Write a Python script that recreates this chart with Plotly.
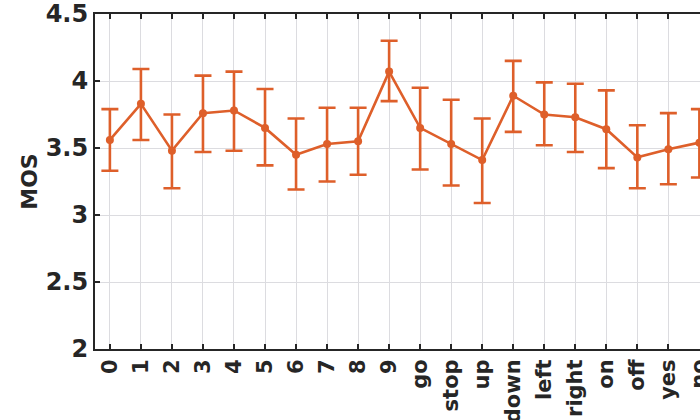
import plotly.graph_objects as go

categories = ['0', '1', '2', '3', '4', '5', '6', '7', '8', '9',
              'go', 'stop', 'up', 'down', 'left', 'right', 'on', 'off', 'yes', 'no']
mos = [3.56, 3.83, 3.48, 3.76, 3.78, 3.65, 3.45, 3.53, 3.55, 4.07,
       3.65, 3.53, 3.41, 3.89, 3.75, 3.73, 3.64, 3.43, 3.49, 3.54]
upper = [3.79, 4.09, 3.75, 4.04, 4.07, 3.94, 3.72, 3.80, 3.80, 4.30,
         3.95, 3.86, 3.72, 4.15, 3.99, 3.98, 3.93, 3.67, 3.76, 3.79]
lower = [3.33, 3.56, 3.20, 3.47, 3.48, 3.37, 3.19, 3.25, 3.30, 3.85,
         3.34, 3.22, 3.09, 3.62, 3.52, 3.47, 3.35, 3.20, 3.23, 3.28]
y_ticks = [2, 2.5, 3, 3.5, 4, 4.5]
y_tick_text = ['2', '2.5', '3', '3.5', '4', '4.5']

color = '#DE5F2A'
axis_color = '#262626'
font_family = 'DejaVu Sans'

err_plus = [u - m for u, m in zip(upper, mos)]
err_minus = [m - l for m, l in zip(mos, lower)]

fig = go.Figure()
fig.add_trace(go.Scatter(
    x=categories, y=mos, mode='lines+markers',
    line=dict(color=color, width=2.6),
    marker=dict(color=color, size=8),
    error_y=dict(type='data', symmetric=False, array=err_plus, arrayminus=err_minus,
                 color=color, thickness=2.6, width=8.5),
    showlegend=False,
))

fig.update_layout(
    width=700, height=420,
    margin=dict(l=95, r=0, t=14, b=71),
    paper_bgcolor='white', plot_bgcolor='white',
    xaxis=dict(
        type='category', range=[-0.48, 19.02],
        showline=True, linecolor=axis_color, linewidth=2, mirror='ticks',
        ticks='inside', ticklen=5, tickwidth=1.5, tickcolor=axis_color,
        showgrid=True, gridcolor='#DCDCE0', gridwidth=1,
        tickangle=-90,
        tickfont=dict(family=font_family, size=21, color=axis_color, weight='bold'),
        automargin=False, zeroline=False,
    ),
    yaxis=dict(
        range=[2, 4.5], tickvals=y_ticks, ticktext=y_tick_text,
        showline=True, linecolor=axis_color, linewidth=2,
        ticks='inside', ticklen=5, tickwidth=1.5, tickcolor=axis_color,
        showgrid=True, gridcolor='#DCDCE0', gridwidth=1,
        tickfont=dict(family=font_family, size=24, color=axis_color, weight='bold'),
        title=dict(text='MOS', font=dict(family=font_family, size=22, color=axis_color, weight='bold'), standoff=2),
        automargin=False, zeroline=False,
    ),
)

fig.write_html('out.html')
